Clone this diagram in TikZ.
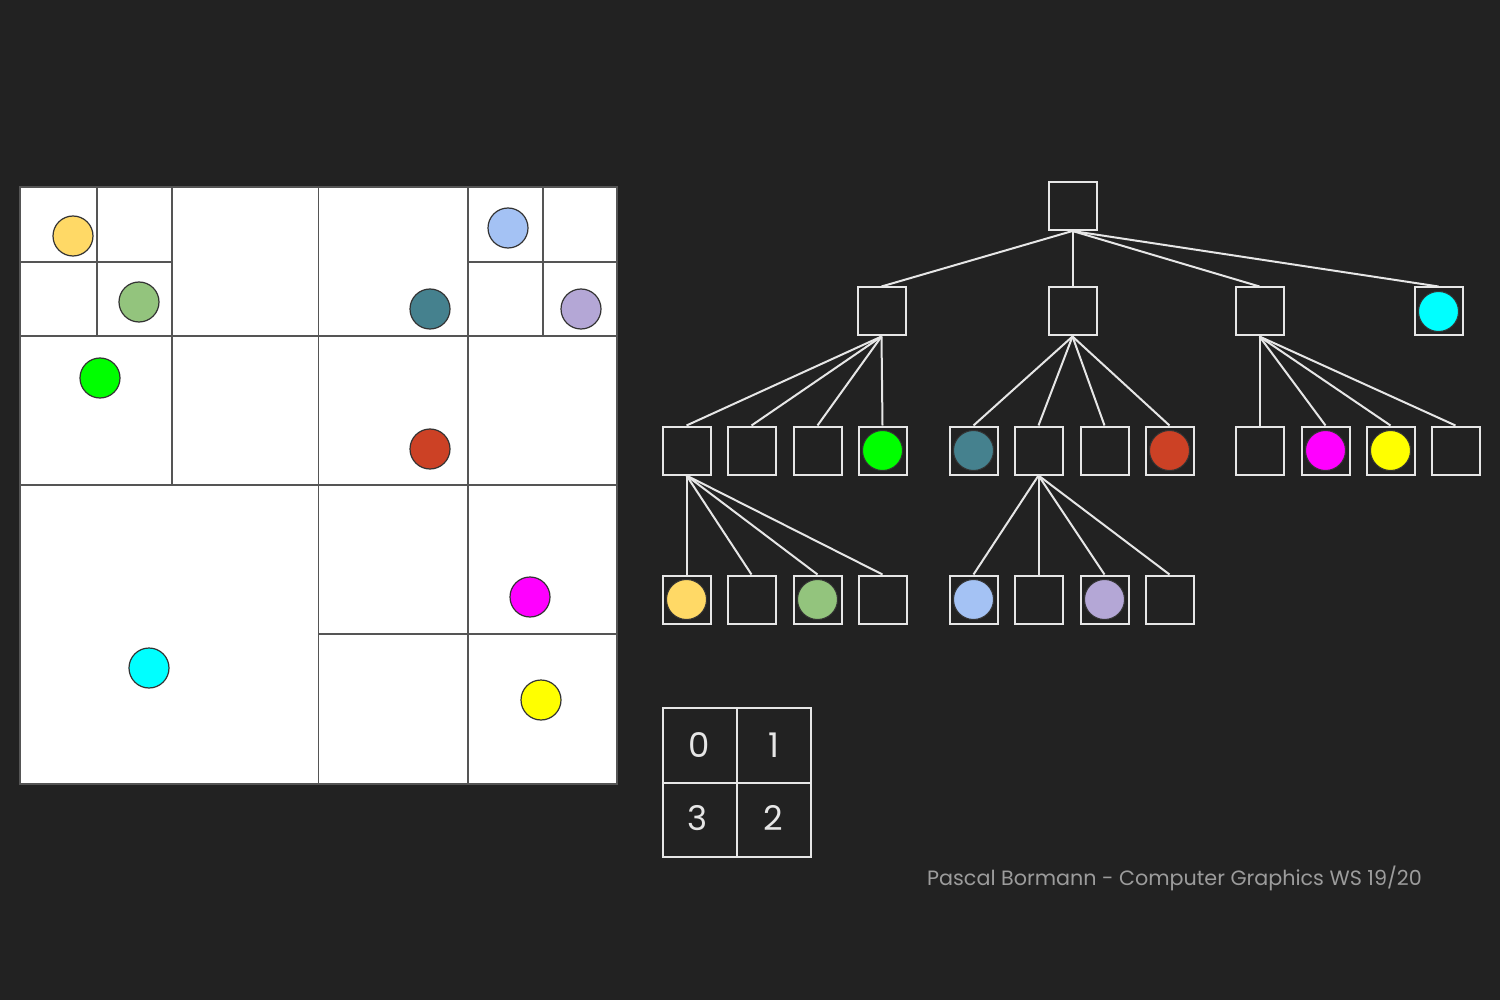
\documentclass[tikz,border=0pt]{standalone}
\usepackage{fontspec}
\setmainfont{Poppins}
\definecolor{bg}{HTML}{222222}
\definecolor{qline}{HTML}{555555}
\definecolor{tline}{HTML}{E6E6E6}
\definecolor{cOrange}{HTML}{FFD966}
\definecolor{cLgreen}{HTML}{93C47D}
\definecolor{cTeal}{HTML}{45818E}
\definecolor{cLblue}{HTML}{A4C2F4}
\definecolor{cLav}{HTML}{B4A7D6}
\definecolor{cGreen}{HTML}{00FF00}
\definecolor{cRed}{HTML}{CC4125}
\definecolor{cMag}{HTML}{FF00FF}
\definecolor{cCyan}{HTML}{00FFFF}
\definecolor{cYel}{HTML}{FFFF00}
\begin{document}
\begin{tikzpicture}[x=1pt,y=-1pt,
  tbox/.style={draw=tline,line width=2pt,fill=bg,minimum width=48pt,minimum height=48pt,inner sep=0pt},
  pt/.style={circle,draw=black!80,line width=1.2pt,minimum size=40pt,inner sep=0pt,fill=#1},
  tpt/.style={circle,draw=black!80,line width=1pt,minimum width=38pt,minimum height=40pt,inner sep=0pt,fill=#1},
  edge/.style={draw=tline,line width=2pt},
  qgrid/.style={draw=qline,line width=1.4pt},
  lgd/.style={draw=tline,line width=2pt},
  dig/.style={text=tline,font=\fontsize{34}{40}\selectfont,inner sep=0pt}]
\fill[bg] (0,0) rectangle (1500,1000);
\useasboundingbox (0,0) rectangle (1500,1000);

% ---------- quadtree picture ----------
\fill[white] (20,187) rectangle (617,784);
\draw[qgrid] (20,187) rectangle (617,784);
\draw[qgrid] (318.5,187) -- (318.5,784);
\draw[qgrid] (20,485) -- (617,485);
\draw[qgrid] (172,187) -- (172,485);
\draw[qgrid] (20,336) -- (617,336);
\draw[qgrid] (97,187) -- (97,336);
\draw[qgrid] (20,262) -- (172,262);
\draw[qgrid] (468,187) -- (468,784);
\draw[qgrid] (543,187) -- (543,336);
\draw[qgrid] (468,262) -- (617,262);
\draw[qgrid] (318.5,634) -- (617,634);

\node[pt=cOrange] (pOrange) at (73,236) {};
\node[pt=cLgreen] (pLgreen) at (139,302) {};
\node[pt=cTeal] (pTeal) at (430,309) {};
\node[pt=cLblue] (pLblue) at (508,228) {};
\node[pt=cLav] (pLav) at (581,309) {};
\node[pt=cGreen] (pGreen) at (100,378) {};
\node[pt=cRed] (pRed) at (430,449) {};
\node[pt=cMag] (pMag) at (530,597) {};
\node[pt=cCyan] (pCyan) at (149,668) {};
\node[pt=cYel] (pYel) at (541,700) {};

% ---------- tree ----------
\node[tbox] (r) at (1072.5,206) {};
\node[tbox] (a0) at (881.5,311.5) {};
\node[tbox] (a1) at (1072.5,311.5) {};
\node[tbox] (a2) at (1259.5,311.5) {};
\node[tbox] (a3) at (1438.5,311.5) {};

\node[tbox] (b00) at (686.5,450.5) {};
\node[tbox] (b01) at (751.5,450.5) {};
\node[tbox] (b02) at (817.5,450.5) {};
\node[tbox] (b03) at (882.5,450.5) {};
\node[tbox] (b10) at (973.5,450.5) {};
\node[tbox] (b11) at (1038.5,450.5) {};
\node[tbox] (b12) at (1104.5,450.5) {};
\node[tbox] (b13) at (1169.5,450.5) {};
\node[tbox] (b20) at (1259.5,450.5) {};
\node[tbox] (b21) at (1325.5,450.5) {};
\node[tbox] (b22) at (1390.5,450.5) {};
\node[tbox] (b23) at (1455.5,450.5) {};

\node[tbox] (c000) at (686.5,599.5) {};
\node[tbox] (c001) at (751.5,599.5) {};
\node[tbox] (c002) at (817.5,599.5) {};
\node[tbox] (c003) at (882.5,599.5) {};
\node[tbox] (c110) at (973.5,599.5) {};
\node[tbox] (c111) at (1038.5,599.5) {};
\node[tbox] (c112) at (1104.5,599.5) {};
\node[tbox] (c113) at (1169.5,599.5) {};

\node[tpt=cCyan] (tCyan) at (a3) {};
\node[tpt=cGreen] (tGreen) at (b03) {};
\node[tpt=cTeal] (tTeal) at (b10) {};
\node[tpt=cRed] (tRed) at (b13) {};
\node[tpt=cMag] (tMag) at (b21) {};
\node[tpt=cYel] (tYel) at (b22) {};
\node[tpt=cOrange] (tOrange) at (c000) {};
\node[tpt=cLgreen] (tLgreen) at (c002) {};
\node[tpt=cLblue] (tLblue) at (c110) {};
\node[tpt=cLav] (tLav) at (c112) {};

\foreach \c in {a0,a1,a2,a3} \draw[edge] (r.south) -- (\c.north);
\foreach \p in {0,1,2} {
  \foreach \q in {0,1,2,3} \draw[edge] (a\p.south) -- (b\p\q.north);
}
\foreach \q in {0,1,2,3} \draw[edge] (b00.south) -- (c00\q.north);
\foreach \q in {0,1,2,3} \draw[edge] (b11.south) -- (c11\q.north);

% ---------- legend ----------
\draw[lgd] (663,708) rectangle (811,857);
\draw[lgd] (737,708) -- (737,857);
\draw[lgd] (663,782.5) -- (811,782.5);
\node[dig] (l0) at (699,745) {0};
\node[dig] (l1) at (774,745) {1};
\node[dig] (l3) at (698,818) {3};
\node[dig] (l2) at (773,818) {2};

% ---------- footer ----------
\node[anchor=base west,inner sep=0pt,text=white!55!bg,font=\fontsize{20.7}{25}\selectfont] (foot) at (927,885) {Pascal Bormann - Computer Graphics WS 19/20};
\end{tikzpicture}
\end{document}
